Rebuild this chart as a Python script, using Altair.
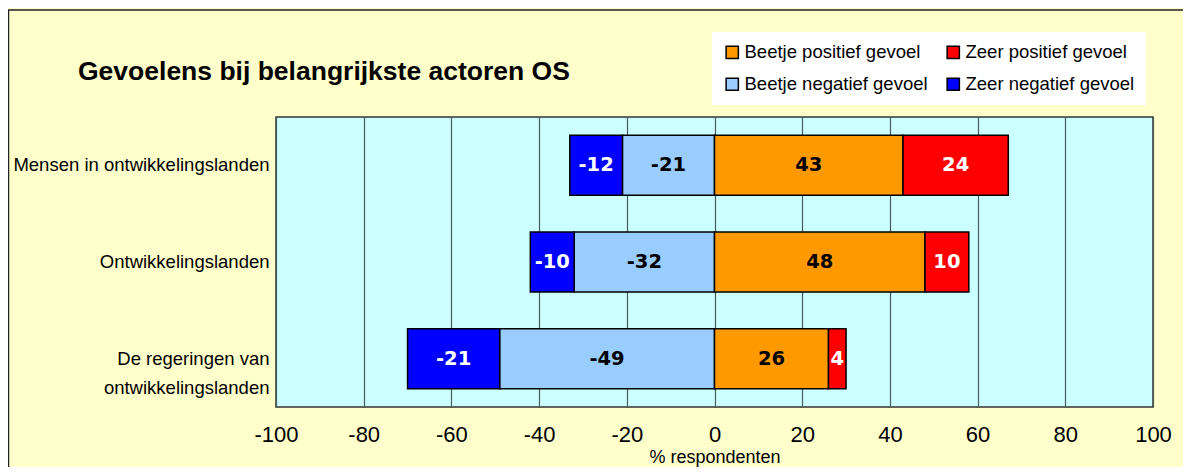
import altair as alt
import pandas as pd

categories = ["Mensen in ontwikkelingslanden", "Ontwikkelingslanden", "De regeringen van\nontwikkelingslanden"]
series = ["Beetje positief gevoel", "Zeer positief gevoel", "Beetje negatief gevoel", "Zeer negatief gevoel"]
colors = ["#FF9900", "#FF0000", "#99CCFF", "#0000FF"]
text_colors = ["#000000", "#FFFFFF", "#000000", "#FFFFFF"]
zeer_negatief = [-12, -10, -21]
beetje_negatief = [-21, -32, -49]
beetje_positief = [43, 48, 26]
zeer_positief = [24, 10, 4]
x_ticks = [-100, -80, -60, -40, -20, 0, 20, 40, 60, 80, 100]
title_text = "Gevoelens bij belangrijkste actoren OS"

rows = []
for i, c in enumerate(categories):
    bn, zn, bp, zp = beetje_negatief[i], zeer_negatief[i], beetje_positief[i], zeer_positief[i]
    rows.append(dict(cat=c, serie=series[2], start=0, end=bn, val=str(bn), tc=text_colors[2]))
    rows.append(dict(cat=c, serie=series[3], start=bn, end=bn + zn, val=str(zn), tc=text_colors[3]))
    rows.append(dict(cat=c, serie=series[0], start=0, end=bp, val=str(bp), tc=text_colors[0]))
    rows.append(dict(cat=c, serie=series[1], start=bp, end=bp + zp, val=str(zp), tc=text_colors[1]))
df = pd.DataFrame(rows)
df["mid"] = (df["start"] + df["end"]) / 2

W, H = 877, 290

x_scale = alt.Scale(domain=[-100, 100], nice=False, zero=False)
y_scale = alt.Scale(domain=categories, paddingInner=0.38, paddingOuter=0.19)

base = alt.Chart(df)

bars = base.mark_bar(stroke="black", strokeWidth=1.5).encode(
    x=alt.X("start:Q", scale=x_scale,
            axis=alt.Axis(values=x_ticks, title="% respondenten", grid=True, gridColor="#4a5a5a",
                          gridWidth=1.2, ticks=False, domain=False, labelFontSize=22,
                          labelFont="Liberation Sans", labelColor="black", labelPadding=17,
                          labelFlush=False, labelExpr="'' + datum.value",
                          titleFont="Liberation Sans", titleFontSize=18, titleFontWeight="normal",
                          titleColor="black", titlePadding=3)),
    x2="end:Q",
    y=alt.Y("cat:N", scale=y_scale, sort=categories,
            axis=alt.Axis(title=None, ticks=False, domain=False, labelFontSize=18.5,
                          labelFont="Liberation Sans", labelColor="black", labelPadding=7,
                          labelLimit=300, labelLineHeight=29,
                          labelExpr="split(datum.label, '\\n')")),
    color=alt.Color("serie:N", scale=alt.Scale(domain=series, range=colors),
                    legend=alt.Legend(title=None, orient="none", legendX=436, legendY=-85,
                                      columns=2, direction="horizontal", fillColor="white",
                                      padding=11, rowPadding=13, columnPadding=16,
                                      symbolType="square", symbolSize=150, symbolStrokeColor="black",
                                      symbolStrokeWidth=1.5, symbolOpacity=1, labelOffset=3,
                                      labelFont="Liberation Sans", labelFontSize=18.5,
                                      labelColor="black", labelLimit=400)),
)

labels = base.mark_text(font="DejaVu Sans", fontWeight="bold", fontSize=19.5, baseline="middle").encode(
    x=alt.X("mid:Q", scale=x_scale),
    y=alt.Y("cat:N", scale=y_scale, sort=categories),
    text=alt.Text("val:N"),
    color=alt.Color("tc:N", scale=None, legend=None),
)

frame = alt.Chart(pd.DataFrame({"f": [0]})).mark_rect(
    stroke="#222222", strokeWidth=1.5, fill="#FFFFCC", fillOpacity=0
).encode(x=alt.value(-267.5), x2=alt.value(W + 100), y=alt.value(-107), y2=alt.value(H + 100))

title = alt.Chart(pd.DataFrame({"t": [title_text]})).mark_text(
    align="left", baseline="alphabetic", font="Liberation Sans", fontSize=26.5, fontWeight="bold",
    color="black"
).encode(x=alt.value(-198), y=alt.value(-37), text="t:N")

chart = alt.layer(bars, labels, frame, title).properties(
    width=W, height=H,
    autosize=alt.AutoSizeParams(type="none"),
    padding={"left": 268, "top": 109, "right": 30, "bottom": 60},
).configure(background="#FFFFCC").configure_view(fill="#CCFFFF", stroke="#333333", strokeWidth=1.5)

chart.save("out.html", embed_options={"renderer": "svg", "actions": False})
